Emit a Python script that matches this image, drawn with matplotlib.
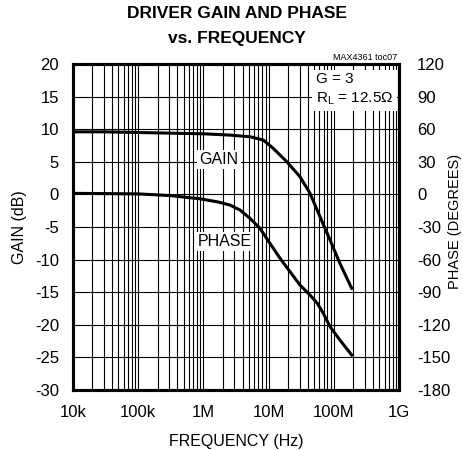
import matplotlib
matplotlib.use("Agg")
import matplotlib.pyplot as plt
from matplotlib.ticker import FixedLocator, LogLocator, NullFormatter

plt.rcParams['font.family'] = ['Liberation Sans Narrow', 'Liberation Sans', 'DejaVu Sans']
plt.rcParams['mathtext.fontset'] = 'custom'
plt.rcParams['mathtext.rm'] = 'Liberation Sans'

# gain curve (left axis, dB)
gain_freq = [1e4, 3e4, 1e5, 3e5, 1e6, 2.56e6, 5.2e6, 8.3e6, 1.18e7, 1.9e7,
             3.03e7, 4.32e7, 6.14e7, 8.75e7, 1.24e8, 1.88e8]
gain_db = [9.6, 9.6, 9.5, 9.4, 9.3, 9.1, 8.85, 8.34, 7.07, 5.02,
           2.72, 0.17, -3.42, -6.99, -10.57, -14.4]

# phase curve (right axis, degrees)
phase_freq = [1e4, 1e5, 3e5, 8.9e5, 1.7e6, 2.56e6, 3.64e6, 5.19e6, 7.38e6, 1.05e7,
              1.5e7, 2.13e7, 3.03e7, 4.32e7, 5.58e7, 6.9e7, 8.75e7, 1.24e8, 1.88e8]
phase_deg = [1, 0.5, -1, -4, -7, -9.8, -14.3, -22, -31.2, -45,
             -58.8, -71.1, -83.4, -92.6, -100.2, -109.4, -121.7, -134, -147.8]

x_ticks = [1e4, 1e5, 1e6, 1e7, 1e8, 1e9]
x_labels = ['10k', '100k', '1M', '10M', '100M', '1G']
gain_ticks = list(range(-30, 21, 5))
phase_ticks = list(range(-180, 121, 30))

fig = plt.figure(figsize=(4.64, 4.5), dpi=100)
ax = fig.add_axes([0.157, 0.1333, 0.703, 0.7244])

ax.set_xscale('log')
ax.set_xlim(1e4, 1e9)
ax.set_ylim(-30, 20)
ax.xaxis.set_major_locator(FixedLocator(x_ticks))
ax.xaxis.set_minor_locator(LogLocator(base=10, subs=range(2, 10)))
ax.xaxis.set_minor_formatter(NullFormatter())
ax.set_xticks(x_ticks)
ax.set_xticklabels(x_labels)
ax.set_yticks(gain_ticks)
ax.set_yticklabels([str(v) for v in gain_ticks])
ax.grid(which='both', axis='x', color='k', lw=0.8)
ax.grid(which='major', axis='y', color='k', lw=0.8)
ax.tick_params(axis='x', which='both', length=0, labelsize=12, pad=11)
ax.tick_params(axis='y', which='both', length=0, labelsize=12, pad=10)

ax.plot(gain_freq, gain_db, color='k', lw=2.2, zorder=5)

ax2 = ax.twinx()
ax2.set_ylim(-180, 120)
ax2.set_yticks(phase_ticks)
ax2.set_yticklabels([str(v) for v in phase_ticks])
ax2.tick_params(length=0, labelsize=12, pad=13)
ax2.plot(phase_freq, phase_deg, color='k', lw=2.2, zorder=5)

for a in (ax, ax2):
    for s in a.spines.values():
        s.set_linewidth(2.2)

box = dict(facecolor='white', edgecolor='none', pad=1.5)
ax.text(1.74e6, 5.3, 'GAIN', ha='center', va='center', fontsize=11.5, bbox=box, zorder=6)
ax.text(2.1e6, -7.25, 'PHASE', ha='center', va='center', fontsize=11.5, bbox=box, zorder=6)
ax.text(0.745, 0.975, 'G = 3\nR$_\\mathregular{L}$ = 12.5\u03a9', transform=ax.transAxes,
        ha='left', va='top', fontsize=11, linespacing=1.35,
        bbox=dict(facecolor='white', edgecolor='none', pad=2.5), zorder=6)

ax.set_xlabel('FREQUENCY (Hz)', fontsize=11.5, labelpad=10)
ax.set_ylabel('GAIN (dB)', fontsize=11.5, labelpad=6)
fig.text(0.981, 0.507, 'PHASE (DEGREES)', fontsize=10.5, rotation=90,
         ha='center', va='center')

fig.text(0.855, 0.873, 'MAX4361 toc07', fontsize=6.5, ha='right', va='center')
fig.text(0.51, 0.97, 'DRIVER GAIN AND PHASE', fontsize=12.5, fontweight='bold',
         ha='center', va='center')
fig.text(0.51, 0.915, 'vs. FREQUENCY', fontsize=12.5, fontweight='bold',
         ha='center', va='center')

fig.savefig('out.png', dpi=100)
